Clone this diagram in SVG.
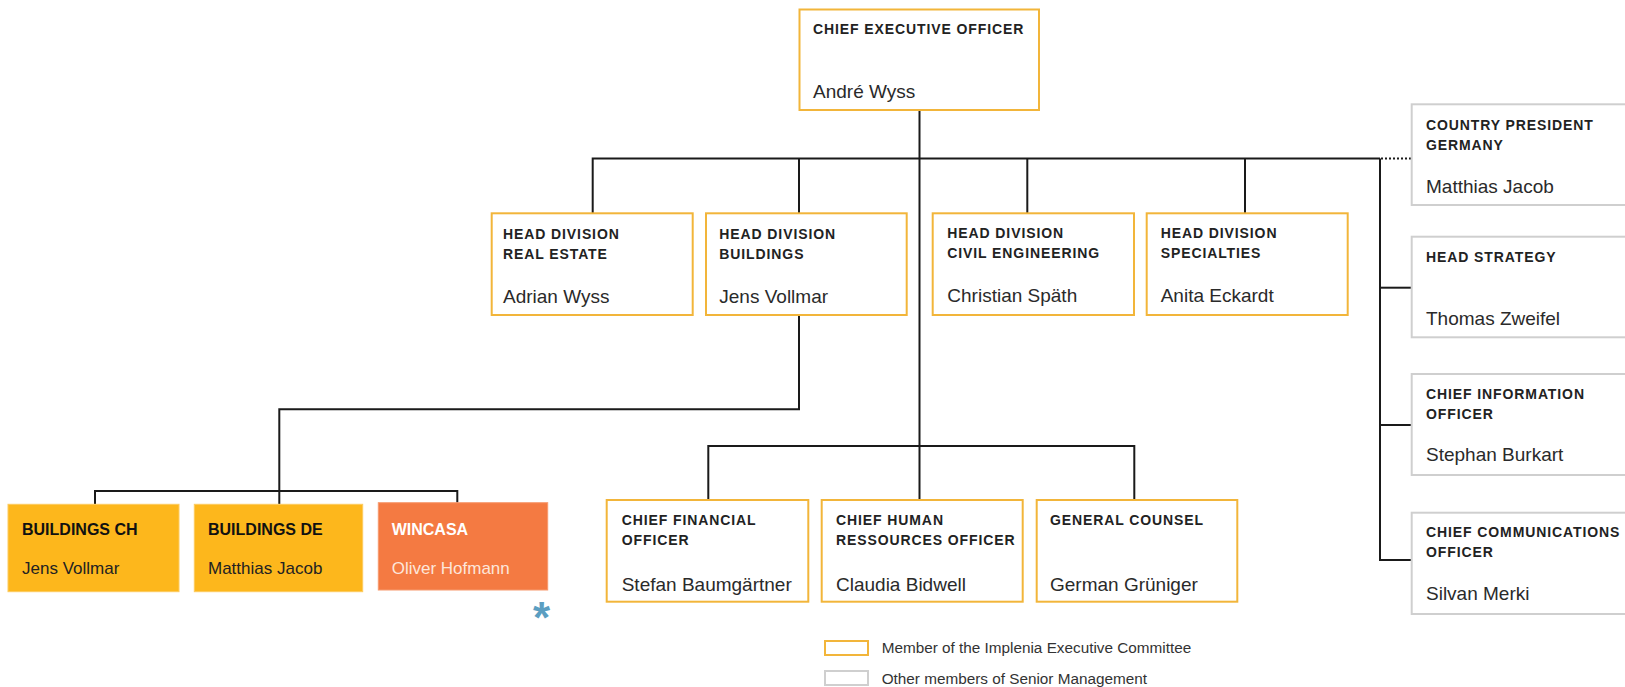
<svg xmlns="http://www.w3.org/2000/svg" width="1625" height="687" viewBox="0 0 1625 687">
<style>
.bg{fill:#ffffff}
.exec{fill:#ffffff;stroke:#F2B53A;stroke-width:2}
.sm{fill:#ffffff;stroke:#CFCFCF;stroke-width:2}
.fillY{fill:#FDB71C;stroke:#FDCB5E;stroke-width:1}
.fillO{fill:#F47A42;stroke:#F79A6E;stroke-width:1}
.t{font-family:"Liberation Sans",Arial,sans-serif;font-weight:bold;font-size:14px;letter-spacing:0.9px;fill:#222}
.n{font-family:"Liberation Sans",Arial,sans-serif;font-size:19px;fill:#2a2a2a}
.ft{font-family:"Liberation Sans",Arial,sans-serif;font-weight:bold;font-size:16px;fill:#111}
.fn{font-family:"Liberation Sans",Arial,sans-serif;font-size:17px;fill:#222}
.wt{fill:#ffffff}
.wn{fill:#FDE6DA}
.lg{font-family:"Liberation Sans",Arial,sans-serif;font-size:15.3px;fill:#333}
.ln{fill:none;stroke:#1a1a1a;stroke-width:2}
.dot{fill:none;stroke:#1a1a1a;stroke-width:2;stroke-dasharray:2 2}
</style>
<rect class="bg" x="0" y="0" width="1625" height="687"/>
<g id="connectors">
  <path class="ln" d="M919.5 110 V500"/>
  <path class="ln" d="M592.7 213 V158.5 H1380"/>
  <path class="ln" d="M799 213 V158.5"/>
  <path class="ln" d="M1027.3 213 V158.5"/>
  <path class="ln" d="M1245 213 V158.5"/>
  <path class="dot" d="M1381 158.5 H1411"/>
  <path class="ln" d="M1380 158.5 V560 H1411.7"/>
  <path class="ln" d="M1380 287.7 H1411.7"/>
  <path class="ln" d="M1380 425 H1411.7"/>
  <path class="ln" d="M799 315 V409.3 H279.3 V504"/>
  <path class="ln" d="M95 504 V491 H457.3 V502.7"/>
  <path class="ln" d="M708.3 500 V446 H1134.3 V500"/>
</g>
<g id="ceo">
  <rect class="exec" x="799.5" y="9.5" width="239.5" height="100.5"/>
  <text class="t" x="813" y="34">CHIEF EXECUTIVE OFFICER</text>
  <text class="n" x="813" y="98">André Wyss</text>
</g>
<g id="hd-real-estate">
  <rect class="exec" x="491.7" y="213.3" width="201" height="101.7"/>
  <text class="t" x="503" y="239.3">HEAD DIVISION</text>
  <text class="t" x="503" y="259.3">REAL ESTATE</text>
  <text class="n" x="503" y="303.3">Adrian Wyss</text>
</g>
<g id="hd-buildings">
  <rect class="exec" x="706" y="213.3" width="200.7" height="101.7"/>
  <text class="t" x="719.3" y="239.3">HEAD DIVISION</text>
  <text class="t" x="719.3" y="259.3">BUILDINGS</text>
  <text class="n" x="719.3" y="303.3">Jens Vollmar</text>
</g>
<g id="hd-civil">
  <rect class="exec" x="932.7" y="213.3" width="201.3" height="101.7"/>
  <text class="t" x="947.3" y="237.7">HEAD DIVISION</text>
  <text class="t" x="947.3" y="257.7">CIVIL ENGINEERING</text>
  <text class="n" x="947.3" y="301.7">Christian Späth</text>
</g>
<g id="hd-specialties">
  <rect class="exec" x="1146.7" y="213.3" width="201" height="101.7"/>
  <text class="t" x="1160.7" y="237.7">HEAD DIVISION</text>
  <text class="t" x="1160.7" y="257.7">SPECIALTIES</text>
  <text class="n" x="1160.7" y="301.7">Anita Eckardt</text>
</g>
<g id="country-president">
  <rect class="sm" x="1411.7" y="104.3" width="240" height="100.7"/>
  <text class="t" x="1426" y="130">COUNTRY PRESIDENT</text>
  <text class="t" x="1426" y="150">GERMANY</text>
  <text class="n" x="1426" y="193.3">Matthias Jacob</text>
</g>
<g id="head-strategy">
  <rect class="sm" x="1411.7" y="236.7" width="240" height="100.6"/>
  <text class="t" x="1426" y="261.7">HEAD STRATEGY</text>
  <text class="n" x="1426" y="325">Thomas Zweifel</text>
</g>
<g id="cio">
  <rect class="sm" x="1411.7" y="374" width="240" height="101"/>
  <text class="t" x="1426" y="399">CHIEF INFORMATION</text>
  <text class="t" x="1426" y="419.3">OFFICER</text>
  <text class="n" x="1426" y="461">Stephan Burkart</text>
</g>
<g id="cco">
  <rect class="sm" x="1411.7" y="512.7" width="240" height="101.3"/>
  <text class="t" x="1426" y="536.7">CHIEF COMMUNICATIONS</text>
  <text class="t" x="1426" y="557.3">OFFICER</text>
  <text class="n" x="1426" y="600">Silvan Merki</text>
</g>
<g id="buildings-ch">
  <rect class="fillY" x="8" y="504.3" width="171" height="87.4"/>
  <text class="ft" x="22" y="535">BUILDINGS CH</text>
  <text class="fn" x="22" y="574.3">Jens Vollmar</text>
</g>
<g id="buildings-de">
  <rect class="fillY" x="194.3" y="504.3" width="168.4" height="87.4"/>
  <text class="ft" x="208" y="535">BUILDINGS DE</text>
  <text class="fn" x="208" y="574.3">Matthias Jacob</text>
</g>
<g id="wincasa">
  <rect class="fillO" x="378.3" y="502.7" width="169.4" height="87.3"/>
  <text class="ft wt" x="391.7" y="535">WINCASA</text>
  <text class="fn wn" x="391.7" y="574.3">Oliver Hofmann</text>
  <text x="541.5" y="633" text-anchor="middle" font-family="Liberation Sans, Arial, sans-serif" font-weight="bold" font-size="44" fill="#5B9EC1">*</text>
</g>
<g id="cfo">
  <rect class="exec" x="606.7" y="500" width="201.6" height="101.7"/>
  <text class="t" x="621.7" y="525">CHIEF FINANCIAL</text>
  <text class="t" x="621.7" y="545">OFFICER</text>
  <text class="n" x="621.7" y="591">Stefan Baumgärtner</text>
</g>
<g id="chro">
  <rect class="exec" x="821.7" y="500" width="201" height="101.7"/>
  <text class="t" x="836" y="525">CHIEF HUMAN</text>
  <text class="t" x="836" y="545">RESSOURCES OFFICER</text>
  <text class="n" x="836" y="591">Claudia Bidwell</text>
</g>
<g id="general-counsel">
  <rect class="exec" x="1036.7" y="500" width="200.6" height="101.7"/>
  <text class="t" x="1050" y="525">GENERAL COUNSEL</text>
  <text class="n" x="1050" y="591">German Grüniger</text>
</g>
<g id="legend">
  <rect class="exec" x="825" y="641" width="43" height="14"/>
  <text class="lg" x="881.7" y="653.3">Member of the Implenia Executive Committee</text>
  <rect class="sm" x="825" y="671" width="43" height="14"/>
  <text class="lg" x="881.7" y="684.3">Other members of Senior Management</text>
</g>
</svg>
